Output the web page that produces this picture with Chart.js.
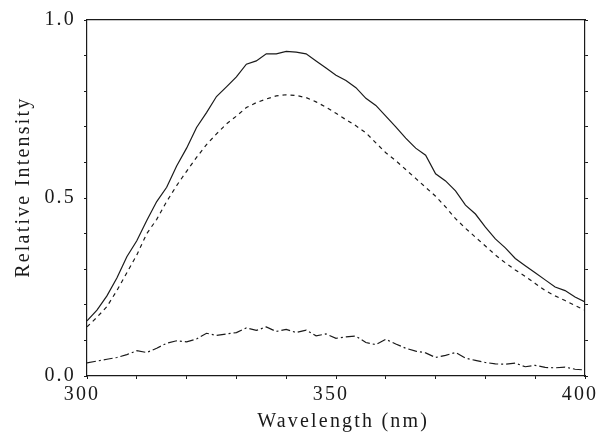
<!DOCTYPE html>
<html>
<head>
<meta charset="utf-8">
<script src="https://cdn.jsdelivr.net/npm/chart.js@4/dist/chart.umd.min.js"></script>
<style>
  html, body { margin: 0; padding: 0; background: #fff; }
  #wrap { width: 604px; height: 441px; }
</style>
</head>
<body>
<div id="wrap"><canvas id="chart" width="604" height="441"></canvas></div>
<script>
// wavelength grid (nm), read every 2 nm off the picture
const wavelengths = [300, 302, 304, 306, 308, 310, 312, 314, 316, 318, 320, 322, 324, 326, 328, 330, 332, 334, 336, 338,
    340, 342, 344, 346, 348, 350, 352, 354, 356, 358, 360, 362, 364, 366, 368, 370, 372, 374, 376, 378,
    380, 382, 384, 386, 388, 390, 392, 394, 396, 398, 400];

// solid curve
const solidValues = [0.155, 0.185, 0.225, 0.275, 0.335, 0.38, 0.437, 0.49, 0.53, 0.59, 0.64, 0.698, 0.74, 0.785, 0.812, 0.84, 0.876, 0.885, 0.905, 0.905,
    0.912, 0.91, 0.905, 0.885, 0.865, 0.845, 0.83, 0.81, 0.78, 0.76, 0.73, 0.70, 0.668, 0.64, 0.62, 0.568, 0.548, 0.52, 0.48, 0.455,
    0.418, 0.385, 0.36, 0.33, 0.31, 0.29, 0.27, 0.25, 0.24, 0.222, 0.208];

// dashed curve
const dashedValues = [0.138, 0.165, 0.195, 0.24, 0.29, 0.34, 0.40, 0.44, 0.49, 0.535, 0.575, 0.614, 0.65, 0.68, 0.708, 0.73, 0.754, 0.768, 0.778, 0.787,
    0.79, 0.788, 0.782, 0.77, 0.755, 0.738, 0.72, 0.703, 0.683, 0.655, 0.627, 0.605, 0.58, 0.555, 0.53, 0.505, 0.475, 0.442, 0.415, 0.39,
    0.365, 0.34, 0.318, 0.298, 0.28, 0.26, 0.24, 0.225, 0.212, 0.198, 0.185];

// dash-dot curve
const dashDotValues = [0.037, 0.042, 0.047, 0.052, 0.06, 0.071, 0.066, 0.078, 0.092, 0.099, 0.096, 0.104, 0.12, 0.114, 0.118, 0.122, 0.135, 0.128, 0.138, 0.125,
    0.131, 0.122, 0.129, 0.113, 0.118, 0.106, 0.11, 0.112, 0.094, 0.088, 0.103, 0.09, 0.078, 0.07, 0.065, 0.052, 0.058, 0.066, 0.05, 0.044,
    0.038, 0.034, 0.033, 0.036, 0.026, 0.03, 0.024, 0.023, 0.025, 0.019, 0.017];

const xLabels = [300, 350, 400];
const yLabels = [0, 0.5, 1.0];

const toPoints = vals => wavelengths.map((w, i) => ({ x: w, y: vals[i] }));

const ink = '#1a1a1a';
const serif = 'Liberation Serif';

function fixSize(w, h) {
    return function (scale) {
        if (w != null) scale.width = w;
        if (h != null) scale.height = h;
    };
}

// the scanned labels are loosely spaced
const spacing = {
    id: 'spacing',
    beforeDraw(chart) { chart.ctx.letterSpacing = '2.2px'; }
};

const ctx = document.getElementById('chart').getContext('2d');
new Chart(ctx, {
    type: 'line',
    plugins: [spacing],
    data: {
        datasets: [
            {
                label: 'solid',
                data: toPoints(solidValues),
                borderColor: ink,
                borderWidth: 1.2,
                pointRadius: 0,
                fill: false,
                tension: 0
            },
            {
                label: 'dashed',
                data: toPoints(dashedValues),
                borderColor: ink,
                borderWidth: 1.2,
                borderDash: [4, 4],
                pointRadius: 0,
                fill: false,
                tension: 0
            },
            {
                label: 'dash-dot',
                data: toPoints(dashDotValues),
                borderColor: ink,
                borderWidth: 1.2,
                borderDash: [9, 3, 2, 3],
                pointRadius: 0,
                fill: false,
                tension: 0
            }
        ]
    },
    options: {
        responsive: false,
        animation: false,
        layout: { padding: 0 },
        plugins: {
            legend: { display: false },
            tooltip: { enabled: false }
        },
        scales: {
            x: {
                type: 'linear',
                position: 'bottom',
                min: 300,
                max: 400,
                afterFit: fixSize(null, 65),
                border: { display: true, color: ink, width: 1.2 },
                grid: { drawOnChartArea: false, drawTicks: true, tickLength: 3, color: ink },
                ticks: {
                    stepSize: 10,
                    autoSkip: false,
                    maxRotation: 0,
                    padding: 4,
                    labelOffset: -5,
                    color: ink,
                    font: { family: serif, size: 20 },
                    callback: v => xLabels.includes(Math.round(v)) && Math.abs(v - Math.round(v)) < 1e-6 ? String(Math.round(v)) : ''
                },
                title: {
                    display: true,
                    text: '  Wavelength (nm)',
                    color: ink,
                    font: { family: serif, size: 20 },
                    padding: { top: 0, bottom: 7 }
                }
            },
            xTop: {
                type: 'linear',
                position: 'top',
                min: 300,
                max: 400,
                afterFit: fixSize(null, 19),
                border: { display: true, color: ink, width: 1.2 },
                grid: { drawOnChartArea: false, drawTicks: false, color: ink },
                ticks: { display: false }
            },
            y: {
                type: 'linear',
                position: 'left',
                min: 0,
                max: 1,
                afterFit: fixSize(87, null),
                border: { display: true, color: ink, width: 1.2 },
                grid: { drawOnChartArea: false, drawTicks: true, tickLength: 3, color: ink },
                ticks: {
                    stepSize: 0.1,
                    autoSkip: false,
                    padding: 8,
                    color: ink,
                    font: { family: serif, size: 20 },
                    callback: v => yLabels.some(l => Math.abs(l - v) < 1e-6) ? v.toFixed(1) : ''
                },
                title: {
                    display: true,
                    text: '   Relative Intensity',
                    color: ink,
                    font: { family: serif, size: 20 },
                    padding: { top: 12, bottom: 0 }
                }
            },
            yRight: {
                type: 'linear',
                position: 'right',
                min: 0,
                max: 1,
                afterFit: fixSize(19, null),
                border: { display: true, color: ink, width: 1.2 },
                grid: { drawOnChartArea: false, drawTicks: true, tickLength: 3, color: ink },
                ticks: { stepSize: 0.1, autoSkip: false, padding: 0, callback: () => '' }
            }
        }
    }
});
</script>
</body>
</html>
